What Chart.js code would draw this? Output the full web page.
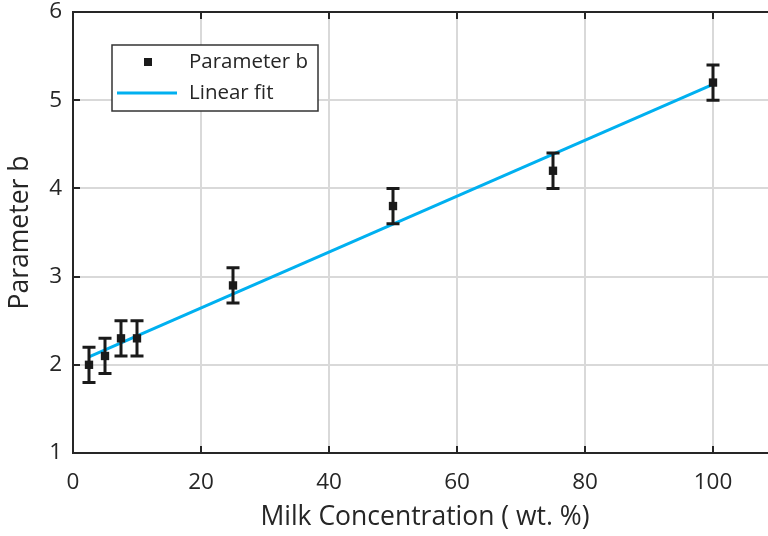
<!DOCTYPE html>
<html>
<head>
<meta charset="utf-8">
<script src="https://cdn.jsdelivr.net/npm/chart.js@4.4.1/dist/chart.umd.min.js"></script>
<style>
  html, body { margin: 0; padding: 0; overflow: hidden; background: #fff; }
  #wrap { width: 800px; height: 536px; }
</style>
</head>
<body>
<div id="wrap"><canvas id="c" width="800" height="536"></canvas></div>
<script>
// Measured parameter b versus milk concentration, with ± uncertainty
const milkConc = [2.5, 5, 7.5, 10, 25, 50, 75, 100];
const paramB   = [2.0, 2.1, 2.3, 2.3, 2.9, 3.8, 4.2, 5.2];
const paramErr = [0.2, 0.2, 0.2, 0.2, 0.2, 0.2, 0.2, 0.2];

// Linear fit endpoints
const fitX = [2.5, 100];
const fitY = [2.09, 5.18];

// Axis ticks
const xTicks = [0, 20, 40, 60, 80, 100];
const yTicks = [1, 2, 3, 4, 5, 6];

const FONT = "'Open Sans', 'Noto Sans', sans-serif";
const TEXT = '#262626';
const AXIS = '#262626';
const GRID = '#d9d9d9';
const FIT_COLOR = '#00b0f0';
const MARK = '#1a1a1a';

// Vertical error bars with caps
const errorBars = {
  id: 'errorBars',
  afterDatasetsDraw(chart) {
    const { ctx, scales: { x, y } } = chart;
    ctx.save();
    ctx.strokeStyle = MARK;
    ctx.lineWidth = 3;
    const cap = 6.5;
    milkConc.forEach((v, i) => {
      const px = x.getPixelForValue(v);
      const lo = y.getPixelForValue(paramB[i] - paramErr[i]);
      const hi = y.getPixelForValue(paramB[i] + paramErr[i]);
      ctx.beginPath();
      ctx.moveTo(px, lo); ctx.lineTo(px, hi);
      ctx.moveTo(px - cap, lo); ctx.lineTo(px + cap, lo);
      ctx.moveTo(px - cap, hi); ctx.lineTo(px + cap, hi);
      ctx.stroke();
    });
    ctx.restore();
  }
};

// Top frame line, inward tick marks and the boxed legend
const frame = {
  id: 'frame',
  afterDraw(chart) {
    const { ctx, chartArea: a, scales: { x, y } } = chart;
    ctx.save();
    ctx.strokeStyle = AXIS;
    ctx.lineWidth = 2;
    ctx.beginPath();
    ctx.moveTo(a.left - 1, a.top); ctx.lineTo(a.right + 1, a.top);
    const tl = 7;
    xTicks.forEach(v => {
      const px = Math.round(x.getPixelForValue(v));
      ctx.moveTo(px, a.bottom); ctx.lineTo(px, a.bottom - tl);
      ctx.moveTo(px, a.top); ctx.lineTo(px, a.top + tl);
    });
    yTicks.forEach(v => {
      const py = Math.round(y.getPixelForValue(v));
      ctx.moveTo(a.left, py); ctx.lineTo(a.left + tl, py);
    });
    ctx.stroke();

    // legend
    const bx = 112, by = 45, bw = 206, bh = 66;
    ctx.fillStyle = '#fff';
    ctx.fillRect(bx, by, bw, bh);
    ctx.strokeStyle = '#333';
    ctx.lineWidth = 1.5;
    ctx.strokeRect(bx, by, bw, bh);
    const ds = chart.data.datasets;
    ctx.fillStyle = MARK;
    ctx.fillRect(144, 58, 8, 8);
    ctx.strokeStyle = FIT_COLOR;
    ctx.lineWidth = 3;
    ctx.beginPath();
    ctx.moveTo(117, 93); ctx.lineTo(177, 93);
    ctx.stroke();
    ctx.fillStyle = TEXT;
    ctx.font = "20.5px " + FONT;
    ctx.textBaseline = 'middle';
    ctx.textAlign = 'left';
    ctx.fillText(ds[0].label, 189, 62);
    ctx.fillText(ds[1].label, 189, 93);
    ctx.restore();
  }
};

new Chart(document.getElementById('c'), {
  type: 'scatter',
  data: {
    datasets: [
      {
        label: 'Parameter b',
        data: milkConc.map((v, i) => ({ x: v, y: paramB[i] })),
        pointStyle: 'rect',
        pointRadius: 5.9,
        pointBackgroundColor: MARK,
        pointBorderWidth: 0,
        showLine: false
      },
      {
        label: 'Linear fit',
        data: fitX.map((v, i) => ({ x: v, y: fitY[i] })),
        showLine: true,
        borderColor: FIT_COLOR,
        borderWidth: 3,
        pointRadius: 0
      }
    ]
  },
  options: {
    responsive: false,
    animation: false,
    devicePixelRatio: 1,
    layout: { padding: { top: 12, right: 23, left: 0, bottom: 0 } },
    plugins: { legend: { display: false }, tooltip: { enabled: false } },
    scales: {
      x: {
        type: 'linear', min: 0, max: 110,
        afterBuildTicks: s => { s.ticks = xTicks.map(v => ({ value: v })); },
        afterFit: s => { s.height = 83; s.paddingLeft = 0; s.paddingRight = 0; },
        ticks: { font: { family: FONT, size: 22.5 }, color: TEXT, padding: 16, maxRotation: 0, autoSkip: false },
        grid: { color: GRID, lineWidth: 2, drawTicks: false },
        border: { color: AXIS, width: 2 },
        title: { display: true, text: 'Milk Concentration ( wt. %)', font: { family: FONT, size: 26.5 }, color: TEXT, padding: { top: 0, bottom: 3 } }
      },
      y: {
        type: 'linear', min: 1, max: 6,
        afterBuildTicks: s => { s.ticks = yTicks.map(v => ({ value: v })); },
        afterFit: s => { s.width = 73; s.paddingTop = 0; s.paddingBottom = 0; },
        ticks: { font: { family: FONT, size: 22.5 }, color: TEXT, padding: 11 },
        grid: { color: GRID, lineWidth: 2, drawTicks: false },
        border: { color: AXIS, width: 2 },
        title: { display: true, text: 'Parameter b', font: { family: FONT, size: 26.5 }, color: TEXT, padding: { top: 5, bottom: 0 } }
      }
    }
  },
  plugins: [errorBars, frame]
});
</script>
</body>
</html>
